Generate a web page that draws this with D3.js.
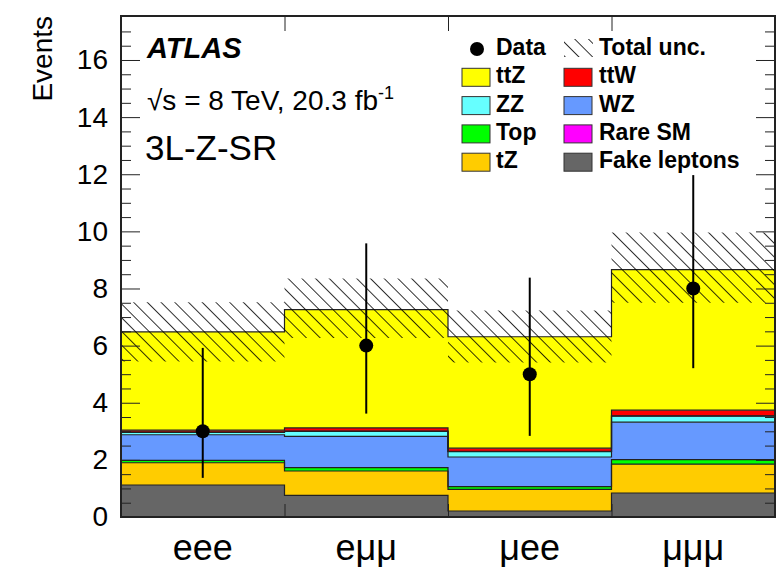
<!DOCTYPE html>
<html>
<head>
<meta charset="utf-8">
<script src="https://cdn.jsdelivr.net/npm/d3@7"></script>
<style>
  body { margin: 0; background: #fff; }
  text { font-family: "Liberation Sans", Arial, Helvetica, sans-serif; }
</style>
</head>
<body>
<div id="chart"></div>
<script>
// channel categories
var categories = ["eee", "eμμ", "μee", "μμμ"];

// background contributions per channel (stacked bottom -> top)
var fake = [1.12, 0.76, 0.21, 0.84];
var tZ   = [0.78, 0.85, 0.76, 1.01];
var top_ = [0.08, 0.12, 0.09, 0.16];
var WZ   = [0.90, 1.09, 1.04, 1.31];
var ZZ   = [0.08, 0.18, 0.19, 0.21];
var rare = [0.01, 0.01, 0.01, 0.01];
var ttW  = [0.07, 0.11, 0.11, 0.20];
var ttZ  = [3.44, 4.14, 3.90, 4.92];

// total uncertainty band edges
var uncLow  = [5.44, 6.27, 5.41, 7.50];
var uncHigh = [7.52, 8.35, 7.23, 9.96];

// data with Poisson intervals
var dataVals = [3, 6, 5, 8];
var dataLow  = [1.37, 3.62, 2.84, 5.21];
var dataHigh = [5.92, 9.58, 8.38, 11.97];

var yTicks = [0, 2, 4, 6, 8, 10, 12, 14, 16];

var keys = ["fake", "tZ", "top", "WZ", "ZZ", "rare", "ttW", "ttZ"];
var colors = {
  fake: "#666666", tZ: "#ffcc00", top: "#00ff00", WZ: "#6699ff",
  ZZ: "#66ffff", rare: "#ff00ff", ttW: "#ff0000", ttZ: "#ffff00"
};

var margin = { top: 16, right: 2, bottom: 52, left: 121 },
  width = 777 - margin.left - margin.right,
  height = 569 - margin.top - margin.bottom;

var svg = d3
  .select("#chart")
  .append("svg")
  .attr("width", 777)
  .attr("height", 569);

// hatch pattern for the uncertainty band
var defs = svg.append("defs");
defs.append("pattern")
  .attr("id", "hatch")
  .attr("patternUnits", "userSpaceOnUse")
  .attr("width", 9.7)
  .attr("height", 9.7)
  .attr("patternTransform", "rotate(-45)")
  .append("line")
  .attr("x1", 0).attr("y1", -1)
  .attr("x2", 0).attr("y2", 11)
  .attr("stroke", "#000")
  .attr("stroke-width", 1.6);

var g = svg.append("g")
  .attr("transform", "translate(" + margin.left + "," + margin.top + ")");

var x = d3.scaleLinear().domain([0, categories.length]).range([0, width]);
var xBand = d3.scaleBand().domain(categories).range([0, width]);
var y = d3.scaleLinear().domain([0, 17.54]).range([height, 0]);

// build table and stack
var table = categories.map(function (c, i) {
  return { cat: c, fake: fake[i], tZ: tZ[i], top: top_[i], WZ: WZ[i],
    ZZ: ZZ[i], rare: rare[i], ttW: ttW[i], ttZ: ttZ[i] };
});
var series = d3.stack().keys(keys)(table);

function extend(arr) { return arr.concat([arr[arr.length - 1]]); }

var area = d3.area()
  .curve(d3.curveStepAfter)
  .x(function (d, i) { return x(i); })
  .y0(function (d) { return y(d[0]); })
  .y1(function (d) { return y(d[1]); });

var topLine = d3.line()
  .curve(d3.curveStepAfter)
  .x(function (d, i) { return x(i); })
  .y(function (d) { return y(d[1]); });

series.forEach(function (s) {
  var pts = extend(Array.from(s));
  g.append("path")
    .attr("d", area(pts))
    .attr("fill", colors[s.key]);
});
series.forEach(function (s) {
  var pts = extend(Array.from(s));
  g.append("path")
    .attr("d", topLine(pts))
    .attr("fill", "none")
    .attr("stroke", "#222")
    .attr("stroke-width", 1.2);
});

// uncertainty band
var band = categories.map(function (c, i) { return [uncLow[i], uncHigh[i]]; });
g.append("path")
  .attr("d", area(extend(band)))
  .attr("fill", "url(#hatch)");

// data points
categories.forEach(function (c, i) {
  var cx = xBand(c) + xBand.bandwidth() / 2;
  g.append("line")
    .attr("x1", cx).attr("x2", cx)
    .attr("y1", y(dataLow[i])).attr("y2", y(dataHigh[i]))
    .attr("stroke", "#000")
    .attr("stroke-width", 2);
  g.append("circle")
    .attr("cx", cx)
    .attr("cy", y(dataVals[i]))
    .attr("r", 7)
    .attr("fill", "#000");
});

// axes
var minor = d3.range(0, 17.5, 0.5).filter(function (v) { return v % 2 !== 0; });

g.append("g")
  .call(d3.axisLeft(y).tickValues(yTicks).tickSize(-19).tickPadding(13).tickFormat(d3.format("d")))
  .call(function (a) { a.select(".domain").remove(); })
  .call(function (a) {
    a.selectAll("text").style("font-size", "28px").attr("fill", "#000");
    a.selectAll("line").attr("stroke", "#222");
  });
g.append("g")
  .call(d3.axisLeft(y).tickValues(minor).tickSize(-10).tickFormat(""))
  .call(function (a) { a.select(".domain").remove(); a.selectAll("line").attr("stroke", "#222"); });
g.append("g")
  .attr("transform", "translate(" + width + ",0)")
  .call(d3.axisRight(y).tickValues(yTicks).tickSize(-19).tickFormat(""))
  .call(function (a) { a.select(".domain").remove(); a.selectAll("line").attr("stroke", "#222"); });
g.append("g")
  .attr("transform", "translate(" + width + ",0)")
  .call(d3.axisRight(y).tickValues(minor).tickSize(-10).tickFormat(""))
  .call(function (a) { a.select(".domain").remove(); a.selectAll("line").attr("stroke", "#222"); });

g.append("g")
  .attr("transform", "translate(0," + height + ")")
  .call(d3.axisBottom(x).tickValues([1, 2, 3]).tickSize(-13).tickFormat(""))
  .call(function (a) { a.select(".domain").remove(); a.selectAll("line").attr("stroke", "#222"); });
g.append("g")
  .call(d3.axisTop(x).tickValues([1, 2, 3]).tickSize(-15).tickFormat(""))
  .call(function (a) { a.select(".domain").remove(); a.selectAll("line").attr("stroke", "#222"); });

// frame
g.append("rect")
  .attr("width", width)
  .attr("height", height)
  .attr("fill", "none")
  .attr("stroke", "#222")
  .attr("stroke-width", 2);

// category labels
g.selectAll(".cat")
  .data(categories)
  .enter()
  .append("text")
  .attr("x", function (d) { return xBand(d) + xBand.bandwidth() / 2; })
  .attr("y", height + 43)
  .attr("text-anchor", "middle")
  .style("font-size", "36px")
  .text(function (d) { return d; });

// y title
svg.append("text")
  .attr("transform", "translate(52,16) rotate(-90)")
  .attr("text-anchor", "end")
  .style("font-size", "28px")
  .text("Events");

// labels
svg.append("text")
  .attr("x", 147).attr("y", 58)
  .style("font-size", "29px")
  .style("font-weight", "bold")
  .style("font-style", "italic")
  .text("ATLAS");

var lumi = svg.append("text")
  .attr("x", 147).attr("y", 110)
  .style("font-size", "28px");
lumi.append("tspan").text("√s = 8 TeV, 20.3 fb");
lumi.append("tspan").attr("dy", -11).style("font-size", "18px").text("-1");

svg.append("text")
  .attr("x", 145).attr("y", 160)
  .style("font-size", "35px")
  .text("3L-Z-SR");

// legend
var legendLeft = [
  { label: "ttZ", key: "ttZ" }, { label: "ZZ", key: "ZZ" },
  { label: "Top", key: "top" }, { label: "tZ", key: "tZ" }
];
var legendRight = [
  { label: "ttW", key: "ttW" }, { label: "WZ", key: "WZ" },
  { label: "Rare SM", key: "rare" }, { label: "Fake leptons", key: "fake" }
];
var rowY = function (i) { return 55 + i * 28.3; };
var lg = svg.append("g");

lg.append("circle").attr("cx", 477).attr("cy", rowY(0) - 6).attr("r", 7).attr("fill", "#000");
lg.append("text").attr("x", 496).attr("y", rowY(0)).text("Data");
lg.append("rect").attr("x", 564).attr("y", rowY(0) - 16).attr("width", 29).attr("height", 18)
  .attr("fill", "url(#hatch)");
lg.append("text").attr("x", 599).attr("y", rowY(0)).text("Total unc.");

function legendCol(items, bx, tx) {
  items.forEach(function (d, i) {
    lg.append("rect")
      .attr("x", bx).attr("y", rowY(i + 1) - 15)
      .attr("width", 28).attr("height", 18)
      .attr("fill", colors[d.key])
      .attr("stroke", "#333")
      .attr("stroke-width", 1);
    lg.append("text").attr("x", tx).attr("y", rowY(i + 1)).text(d.label);
  });
}
legendCol(legendLeft, 462, 496);
legendCol(legendRight, 564, 599);
lg.selectAll("text").style("font-size", "23px").style("font-weight", "bold");
</script>
</body>
</html>
